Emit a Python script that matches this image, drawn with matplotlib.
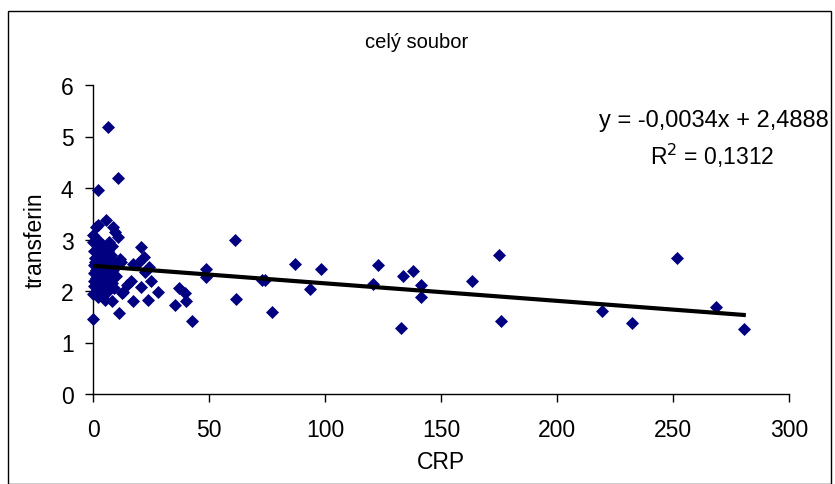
import matplotlib
matplotlib.use("Agg")
import matplotlib.pyplot as plt
from matplotlib.patches import Rectangle

plt.rcParams['font.family'] = ['Liberation Sans', 'DejaVu Sans']

# CRP values (x) and transferin values (y)
crp = [
    6.3, 10.6, 2.0,
    61.3, 175.1, 251.9, 87.2, 122.7, 98.4,
    48.7, 48.7, 72.7, 74.3, 93.4, 61.5, 77.0,
    37.0, 39.7, 35.3, 40.0, 42.5,
    120.8, 133.8, 138.0, 141.5, 141.5, 132.8, 163.2, 176.0, 219.3, 232.2, 268.4, 280.5,
    20.5, 22.0, 12.1, 17.4, 19.5, 24.3, 22.4, 25.0, 16.4, 14.5, 20.7, 27.9, 13.1, 17.4, 23.6, 11.3,
    0.1, 5.2, 8.0, 10.9, 0.1, 1.6, 7.0, 8.0, 2.0, 0.6, 6.6, 2.3, 5.2, 11.6, 0.9, 3.7, 7.3,
    5.6, 2.0, 8.8, 9.5,
    8.0, 6.6, 12.4, 0.9, 2.3, 0.4, 1.2, 0.5, 2.5, 3.5, 4.5, 1.8, 3.0, 4.0, 5.5, 6.5, 7.5,
    8.8, 9.5, 1.0, 3.0, 4.5, 0.3, 1.5, 0.2, 2.8, 0.6, 4.2, 5.8, 9.0, 6.0, 10.0, 3.2, 7.8,
    0.2, 1.4,
]
transferin = [
    5.18, 4.20, 3.97,
    3.00, 2.69, 2.65, 2.53, 2.50, 2.42,
    2.42, 2.28, 2.22, 2.22, 2.03, 1.84, 1.60,
    2.05, 1.97, 1.73, 1.80, 1.41,
    2.13, 2.30, 2.38, 2.12, 1.88, 1.29, 2.19, 1.41, 1.61, 1.37, 1.68, 1.26,
    2.85, 2.66, 2.57, 2.52, 2.55, 2.47, 2.37, 2.19, 2.20, 2.12, 2.07, 1.99, 1.99, 1.80, 1.83, 1.57,
    1.46, 1.83, 1.80, 3.04, 3.09, 3.01, 2.95, 2.88, 2.85, 2.78, 2.78, 2.69, 2.65, 2.62, 2.56, 2.56, 2.56,
    3.38, 3.29, 3.25, 3.14,
    2.15, 2.00, 1.97, 1.97, 1.88, 2.10, 2.25, 2.35, 2.45, 2.30, 2.18, 2.05, 2.12, 2.40, 2.48, 2.35, 2.45,
    2.40, 2.55, 2.65, 2.75, 2.90, 2.50, 2.40, 1.95, 1.95, 2.20, 2.05, 2.25, 2.05, 2.10, 2.30, 2.60, 2.70,
    2.95, 3.25,
]

# linear trend line coefficients
slope = -0.0034
intercept = 2.4888
r_squared = 0.1312

x_ticks = [0, 50, 100, 150, 200, 250, 300]
y_ticks = [0, 1, 2, 3, 4, 5, 6]

fig = plt.figure(figsize=(8.35, 4.85), dpi=100)
ax = fig.add_axes([93 / 835, 1 - 395 / 485, (789 - 93) / 835, (395 - 86) / 485])

ax.scatter(crp, transferin, marker='D', s=44, color='#000080', linewidths=0,
           zorder=3, clip_on=False)

x_line = [min(crp), max(crp)]
y_line = [intercept + slope * v for v in x_line]
ax.plot(x_line, y_line, color='black', linewidth=3, zorder=4)

ax.set_xlim(0, 300)
ax.set_ylim(0, 6)
ax.set_xticks(x_ticks)
ax.set_yticks(y_ticks)
ax.tick_params(axis='both', labelsize=16.5, direction='out', length=6, width=1, colors='black')
ax.tick_params(axis='x', pad=11)
ax.tick_params(axis='y', pad=8)
for side in ('top', 'right'):
    ax.spines[side].set_visible(False)
for side in ('left', 'bottom'):
    ax.spines[side].set_linewidth(1)
    ax.spines[side].set_color('black')

ax.set_xlabel('CRP', fontsize=16.5, labelpad=7)
ax.set_ylabel('transferin', fontsize=16.5, labelpad=10)

fig.text(417 / 835, 1 - 43 / 485, 'celý soubor', fontsize=14.5, ha='center', va='center')

eq_text = 'y = -0,0034x + 2,4888'
fig.text(829 / 835, 1 - 121 / 485, eq_text, fontsize=17, ha='right', va='center')
fig.text(712 / 835, 1 - 156 / 485, 'R$^2$ = 0,1312', fontsize=16.5, ha='center', va='center')

# outer chart frame
fig.patches.append(Rectangle((8 / 835, 0), (831 - 8) / 835, 1 - 12 / 485,
                             transform=fig.transFigure, fill=False,
                             edgecolor='black', linewidth=1))

fig.savefig('out.png', dpi=100)
